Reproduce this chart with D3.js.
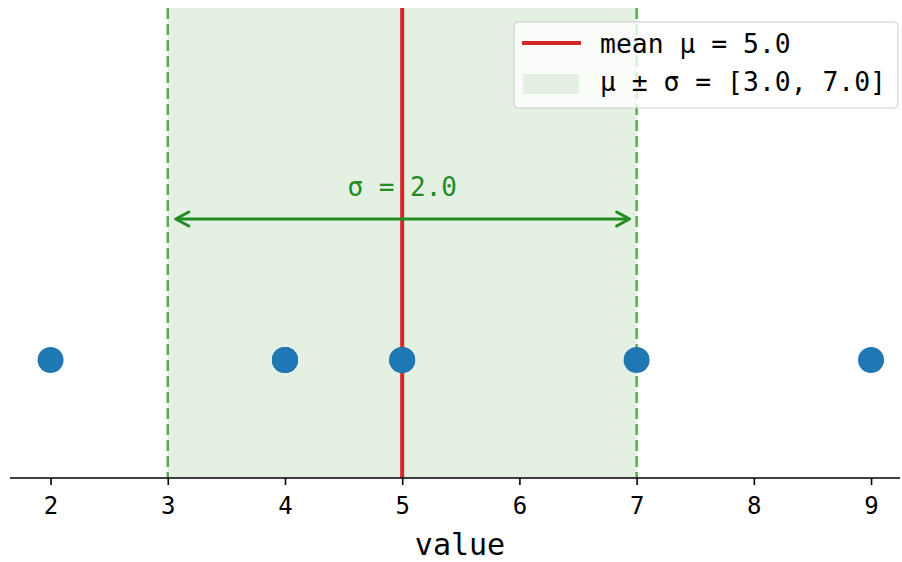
<!DOCTYPE html>
<html>
<head>
<meta charset="utf-8">
<script src="https://cdn.jsdelivr.net/npm/d3@7"></script>
<style>
  body { margin: 0; background: #fff; }
  text { font-family: "DejaVu Sans Mono", monospace; }
</style>
</head>
<body>
<div id="chart"></div>
<script>
// observations (mean 5, std 2)
var values = [2, 4, 4, 4, 5, 5, 7, 9];
var xTicks = [2, 3, 4, 5, 6, 7, 8, 9];
var mu = 5.0;
var sigma = 2.0;
var legendLabels = ["mean \u03bc = 5.0", "\u03bc \u00b1 \u03c3 = [3.0, 7.0]"];

var width = 902, height = 562;
var plotLeft = 10, plotRight = 900, plotTop = 8, axisY = 478, dotY = 360;

var svg = d3.select("#chart").append("svg")
    .attr("width", width)
    .attr("height", height);

var x = d3.scaleLinear().domain([1.654, 9.247]).range([plotLeft, plotRight]);

// shaded band mu +/- sigma
svg.append("rect")
    .attr("x", x(mu - sigma))
    .attr("y", plotTop)
    .attr("width", x(mu + sigma) - x(mu - sigma))
    .attr("height", axisY - plotTop)
    .attr("fill", "#e4f0e2");

// dashed band edges
[mu - sigma, mu + sigma].forEach(function (v) {
    svg.append("line")
        .attr("x1", x(v)).attr("x2", x(v))
        .attr("y1", plotTop).attr("y2", axisY)
        .attr("stroke", "#5aab52")
        .attr("stroke-width", 2.5)
        .attr("stroke-dasharray", "11,5");
});

// mean line
svg.append("line")
    .attr("x1", x(mu)).attr("x2", x(mu))
    .attr("y1", plotTop).attr("y2", axisY)
    .attr("stroke", "#d62728")
    .attr("stroke-width", 4);

// sigma arrow
var arrowY = 219, green = "#228b22";
svg.append("line")
    .attr("x1", x(mu - sigma) + 9).attr("x2", x(mu + sigma) - 8)
    .attr("y1", arrowY).attr("y2", arrowY)
    .attr("stroke", green).attr("stroke-width", 3);
[[x(mu - sigma) + 8, 1], [x(mu + sigma) - 7, -1]].forEach(function (a) {
    var tip = a[0], d = a[1];
    svg.append("path")
        .attr("d", "M" + (tip + d * 13) + "," + (arrowY - 7) + " L" + tip + "," + arrowY +
            " L" + (tip + d * 13) + "," + (arrowY + 7))
        .attr("fill", "none")
        .attr("stroke", green)
        .attr("stroke-width", 3)
        .attr("stroke-linecap", "round")
        .attr("stroke-linejoin", "round");
});
svg.append("text")
    .attr("x", x(mu))
    .attr("y", 196)
    .attr("text-anchor", "middle")
    .attr("font-size", 26)
    .attr("fill", green)
    .text("\u03c3 = " + sigma.toFixed(1));

// points
svg.append("g").selectAll("circle")
    .data(values)
    .enter().append("circle")
    .attr("cx", function (d) { return x(d); })
    .attr("cy", dotY)
    .attr("r", 13)
    .attr("fill", "#1f77b4");

// bottom axis
var axis = svg.append("g")
    .attr("transform", "translate(0," + axisY + ")")
    .call(d3.axisBottom(x).tickValues(xTicks).tickSize(7).tickPadding(6).tickFormat(d3.format("d")));
axis.select(".domain").attr("d", "M" + plotLeft + ",0H" + plotRight).attr("stroke", "#000").attr("stroke-width", 1.6);
axis.selectAll(".tick line").attr("stroke", "#000").attr("stroke-width", 1.6);
axis.selectAll(".tick text")
    .attr("dy", null)
    .attr("y", 36)
    .attr("font-size", 24)
    .attr("fill", "#000");

svg.append("text")
    .attr("x", (plotLeft + plotRight) / 2 + 5)
    .attr("y", 555)
    .attr("text-anchor", "middle")
    .attr("font-size", 30)
    .text("value");

// legend
var lg = svg.append("g").attr("transform", "translate(514,22)");
lg.append("rect")
    .attr("width", 384).attr("height", 86)
    .attr("rx", 4)
    .attr("fill", "#fff").attr("fill-opacity", 0.8)
    .attr("stroke", "#ccc").attr("stroke-width", 1);
lg.append("line")
    .attr("x1", 8).attr("x2", 67)
    .attr("y1", 21).attr("y2", 21)
    .attr("stroke", "#d62728").attr("stroke-width", 4);
lg.append("rect")
    .attr("x", 9).attr("y", 52)
    .attr("width", 56).attr("height", 20)
    .attr("fill", "#e4f0e2");
legendLabels.forEach(function (t, i) {
    lg.append("text")
        .attr("x", 86)
        .attr("y", 31 + i * 38)
        .attr("font-size", 26.4)
        .attr("fill", "#000")
        .text(t);
});
</script>
</body>
</html>
